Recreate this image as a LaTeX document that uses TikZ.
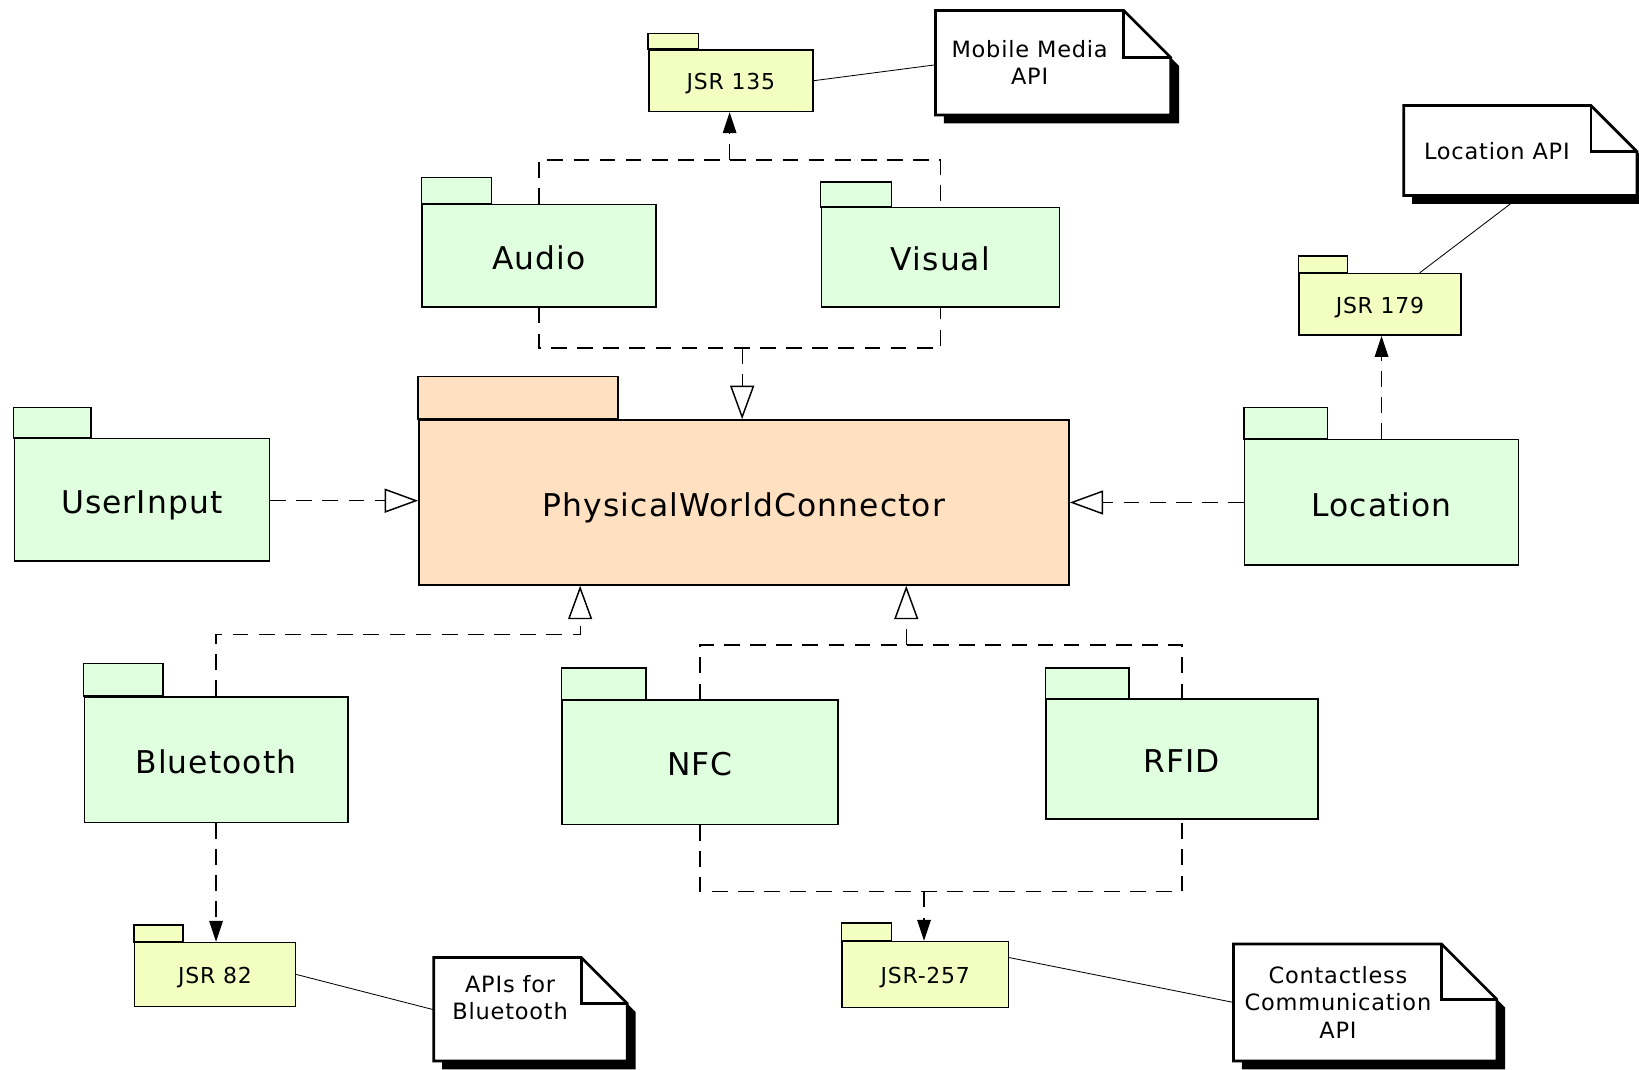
\documentclass[tikz,border=0pt]{standalone}
\usepackage{fontspec}
\setmainfont{DejaVu Sans}[LetterSpace=3.5]
\usetikzlibrary{arrows.meta,calc}

\definecolor{pkggreen}{RGB}{223,255,223}
\definecolor{pkgyellow}{RGB}{242,255,192}
\definecolor{pkgpeach}{RGB}{255,224,192}

% package: #1 name, #2 style, #3 left x, #4 tab top y, #5 tab right x,
%          #6 body top y, #7 right x, #8 bottom y, #9 label
\newcommand\umlpkg[9]{%
  \draw[#2] (#3,#4) rectangle (#5,#6);
  \node[#2, anchor=north west, minimum width={(#7-#3)*1pt},
        minimum height={(#8-#6)*1pt}] (#1) at (#3,#6) {#9};
}

% note with folded corner and drop shadow:
% #1 name, #2 x1, #3 y1, #4 x2, #5 y2, #6 fold size, #7/#8 text centre, #9 text
\newcommand\umlnote[9]{%
  \fill[black] ({#2+8},{#3+8}) -- ({#4-#6+8},{#3+8}) -- ({#4+8},{#3+#6+8})
    -- ({#4+8},{#5+8}) -- ({#2+8},{#5+8}) -- cycle;
  \draw[notebox] (#2,#3) -- ({#4-#6},#3) -- (#4,{#3+#6}) -- (#4,#5)
    -- (#2,#5) -- cycle;
  \draw[notebox, fill=none] ({#4-#6},#3) -- ({#4-#6},{#3+#6}) -- (#4,{#3+#6});
  \node[notetext] (#1) at (#7,#8) {#9};
  \coordinate (#1-w) at (#2,{(#3+#5)/2});
  \coordinate (#1-s) at ({(#2+#4)/2},#5);
}

\tikzset{
  pkgbase/.style={draw=black, line width=1.4pt, inner sep=0pt},
  bigpkg/.style={pkgbase, fill=pkggreen, font=\fontsize{30}{36}\selectfont,
    text height=26pt, text depth=0pt},
  corepkg/.style={bigpkg, fill=pkgpeach},
  jsrpkg/.style={pkgbase, fill=pkgyellow, font=\fontsize{21}{25}\selectfont,
    text height=17pt, text depth=0pt},
  notebox/.style={draw=black, fill=white, line width=2.6pt, line join=miter},
  notetext/.style={align=center, inner sep=0pt,
    font=\fontsize{21.5}{26}\selectfont},
  dep/.style={draw=black, line width=1.2pt, dash pattern=on 15pt off 10pt},
  gen/.style={dep, -{Triangle[open, length=32pt, width=23pt, line width=1.4pt]}},
  use/.style={dep, -{Triangle[length=20pt, width=13pt]}},
  link/.style={draw=black, line width=0.8pt},
}

\begin{document}
\begin{tikzpicture}[x=1pt, y=-1pt]
\useasboundingbox (0,0) rectangle (1568,1023);

% ---- packages ----
\umlpkg{pwc}{corepkg}{400}{360}{591}{401}{1022}{559}{PhysicalWorldConnector}
\umlpkg{userinput}{bigpkg}{13}{390}{87}{419}{257}{536}{UserInput}
\umlpkg{location}{bigpkg}{1190}{390}{1270}{420}{1452}{540}{Location}
\umlpkg{audio}{bigpkg}{403}{170}{470}{195}{627}{293}{Audio}
\umlpkg{visual}{bigpkg}{785}{174}{853}{198}{1013}{293}{Visual}
\umlpkg{bluetooth}{bigpkg}{80}{635}{156}{666}{332}{786}{Bluetooth}
\umlpkg{nfc}{bigpkg}{537}{639}{618}{669}{801}{788}{NFC}
\umlpkg{rfid}{bigpkg}{1000}{639}{1080}{668}{1260}{783}{RFID}

\umlpkg{jsr135}{jsrpkg}{620}{32}{668}{47}{777}{106}{JSR 135}
\umlpkg{jsr179}{jsrpkg}{1242}{245}{1289}{261}{1397}{320}{JSR 179}
\umlpkg{jsr82}{jsrpkg}{128}{885}{175}{901}{282}{962}{JSR 82}
\umlpkg{jsr257}{jsrpkg}{805}{883}{853}{900}{964}{963}{JSR-257}

% ---- links from notes (drawn under the notes' shadows) ----
\coordinate (loclink) at (1445,195);
\draw[link] ($(jsr179.north)+(38,0)$) -- (loclink);

% ---- notes ----
\umlnote{mmnote}{895}{10}{1120}{110}{45}{985}{60}{Mobile Media\\API}
\umlnote{locnote}{1343}{101}{1566}{187}{44}{1432}{145}{Location API}
\umlnote{btnote}{415}{916}{600}{1015}{44}{488}{954}{APIs for\\Bluetooth}
\umlnote{ccnote}{1180}{903}{1432}{1015}{53}{1280}{959}{Contactless\\Communication\\API}

\draw[link] (jsr135.east) -- (mmnote-w |- 0,62);
\draw[link] (jsr82.east) -- (btnote-w |- 0,966);
\draw[link] ($(jsr257.north east)!0.25!(jsr257.south east)$) -- (ccnote-w |- 0,959);

% ---- junction points of merged dependencies ----
\coordinate (avtop) at (698,153);
\coordinate (avbot) at (710,333);
\coordinate (btbend) at (555,607);
\coordinate (nrtop) at (867,617);
\coordinate (nrbot) at (884,853);

% Audio / Visual
\draw[dep] (audio.north) -- (audio.north |- avtop) -- (visual.north |- avtop) -- (visual.north);
\draw[use] (avtop) -- (jsr135.south -| avtop);
\draw[dep] (audio.south) -- (audio.south |- avbot) -- (visual.south |- avbot) -- (visual.south);
\draw[gen] (avbot) -- (pwc.north -| avbot);

% UserInput and Location
\draw[gen] (userinput.east |- 0,479) -- (pwc.west |- 0,479);
\draw[gen] (location.west) -- (pwc.east |- location.west);
\draw[use] (location.north) -- (jsr179.south -| location.north);

% Bluetooth
\draw[gen] (bluetooth.north) |- (btbend) -- (pwc.south -| btbend);
\draw[use] (bluetooth.south) -- (jsr82.north -| bluetooth.south);

% NFC / RFID
\draw[dep] (nfc.north) -- (nfc.north |- nrtop) -- (rfid.north |- nrtop) -- (rfid.north);
\draw[gen] (nrtop) -- (pwc.south -| nrtop);
\draw[dep] (nfc.south) -- (nfc.south |- nrbot) -- (rfid.south |- nrbot) -- (rfid.south);
\draw[use] (nrbot) -- (jsr257.north -| nrbot);
\end{tikzpicture}
\end{document}
